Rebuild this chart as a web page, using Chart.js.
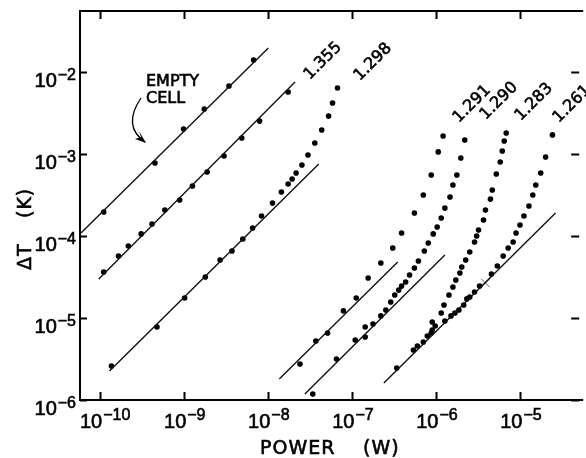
<!DOCTYPE html>
<html>
<head>
<meta charset="utf-8">
<script src="https://cdn.jsdelivr.net/npm/chart.js@4.4.1/dist/chart.umd.min.js"></script>
<style>
  html, body { margin: 0; padding: 0; background: #fff; overflow: hidden; }
  canvas { display: block; }
</style>
</head>
<body>
<canvas id="chart" width="586" height="458"></canvas>
<script>
// Tick decades
const xTickExponents = [-10, -9, -8, -7, -6, -5];
const yTickExponents = [-6, -5, -4, -3, -2];

// Empty cell
const emptyCellPower = [1.10e-10, 4.48e-10, 9.8e-10, 1.73e-9, 3.40e-9, 6.68e-9];
const emptyCellDeltaT = [1.96e-4, 7.76e-4, 2.02e-3, 3.54e-3, 6.75e-3, 1.40e-2];
const emptyFitPower = [5.9e-11, 1.0e-8];
const emptyFitDeltaT = [1.09e-4, 1.96e-2];

// 1.355
const run1355Power = [1.10e-10, 1.65e-10, 2.16e-10, 3.07e-10, 4.13e-10, 5.87e-10, 8.81e-10, 1.25e-9, 1.87e-9, 2.97e-9, 4.83e-9, 7.87e-9, 1.72e-8];
const run1355DeltaT = [3.64e-5, 5.70e-5, 7.55e-5, 1.06e-4, 1.40e-4, 2.07e-4, 2.75e-4, 4.07e-4, 6.03e-4, 9.46e-4, 1.57e-3, 2.52e-3, 5.70e-3];
const fit1355Power = [9.6e-11, 2.08e-8];
const fit1355DeltaT = [2.99e-5, 7.55e-3];

// 1.298
const run1298Power = [1.36e-10, 4.73e-10, 1.01e-9, 1.78e-9, 2.67e-9, 3.69e-9, 4.97e-9, 6.50e-9, 8.30e-9, 1.12e-8, 1.43e-8, 1.72e-8, 1.92e-8, 2.14e-8, 2.51e-8, 2.96e-8, 3.57e-8, 4.32e-8, 5.21e-8, 5.81e-8, 6.65e-8];
const run1298DeltaT = [2.60e-6, 7.76e-6, 1.75e-5, 3.16e-5, 5.09e-5, 6.56e-5, 9.18e-5, 1.25e-4, 1.75e-4, 2.52e-4, 3.44e-4, 4.31e-4, 4.95e-4, 5.86e-4, 7.35e-4, 9.73e-4, 1.36e-3, 1.96e-3, 2.90e-3, 4.19e-3, 6.38e-3];
const fit1298Power = [1.29e-10, 3.98e-8];
const fit1298DeltaT = [2.26e-6, 7.55e-4];

// 1.291
const run1291Power = [2.38e-8, 3.67e-8, 5.07e-8, 7.82e-8, 1.11e-7, 1.54e-7, 2.18e-7, 3.02e-7, 3.85e-7, 5.47e-7, 6.98e-7, 8.67e-7, 1.05e-6, 1.20e-6];
const run1291DeltaT = [2.75e-6, 5.25e-6, 6.56e-6, 1.22e-5, 1.75e-5, 3.08e-5, 4.69e-5, 7.15e-5, 1.09e-4, 1.91e-4, 3.16e-4, 5.55e-4, 1.06e-3, 1.66e-3];
const fit1291Power = [1.35e-8, 3.46e-7];
const fit1291DeltaT = [1.80e-6, 4.82e-5];

// 1.290
const run1290Power = [3.38e-8, 6.47e-8, 1.08e-7, 1.42e-7, 1.42e-7, 1.76e-7, 2.18e-7, 2.50e-7, 2.86e-7, 3.19e-7, 3.56e-7, 3.85e-7, 4.30e-7, 4.79e-7, 5.47e-7, 6.10e-7, 7.18e-7, 8.00e-7, 9.16e-7, 1.02e-6, 1.14e-6, 1.26e-6, 1.45e-6, 1.57e-6, 1.75e-6, 1.95e-6, 2.17e-6];
const run1290DeltaT = [1.18e-6, 3.16e-6, 5.40e-6, 5.86e-6, 7.76e-6, 8.45e-6, 1.06e-5, 1.25e-5, 1.57e-5, 1.91e-5, 2.19e-5, 2.45e-5, 2.75e-5, 3.34e-5, 4.07e-5, 4.95e-5, 6.56e-5, 8.22e-5, 1.06e-4, 1.29e-4, 1.66e-4, 2.19e-4, 2.99e-4, 4.19e-4, 5.55e-4, 8.93e-4, 1.48e-3];
const fit1290Power = [2.72e-8, 1.26e-6];
const fit1290DeltaT = [1.18e-6, 5.86e-5];

// 1.283
const run1283Power = [5.93e-7, 7.78e-7, 8.91e-7, 8.91e-7, 1.14e-6, 1.23e-6, 1.41e-6, 1.57e-6, 1.70e-6, 1.90e-6, 2.00e-6, 2.23e-6, 2.49e-6, 2.84e-6, 3.01e-6, 3.17e-6, 3.63e-6, 3.83e-6, 4.39e-6, 4.62e-6, 5.15e-6, 5.74e-6, 6.07e-6, 6.40e-6, 6.76e-6];
const run1283DeltaT = [4.56e-6, 6.03e-6, 7.15e-6, 8.93e-6, 1.15e-5, 1.44e-5, 1.91e-5, 2.39e-5, 2.90e-5, 3.54e-5, 4.19e-5, 5.09e-5, 6.38e-5, 8.45e-5, 1.00e-4, 1.18e-4, 1.57e-4, 2.07e-4, 2.82e-4, 3.64e-4, 5.70e-4, 7.98e-4, 1.09e-3, 1.44e-3, 1.80e-3];

// 1.261 (shares the fit line with 1.283)
const run1261Power = [3.37e-7, 5.33e-7, 6.98e-7, 8.67e-7, 9.66e-7, 1.26e-6, 1.49e-6, 1.66e-6, 1.85e-6, 2.11e-6, 2.30e-6, 2.49e-6, 2.84e-6, 3.26e-6, 4.51e-6, 5.30e-6, 6.22e-6, 7.13e-6, 8.17e-6, 8.85e-6, 9.86e-6, 1.10e-5, 1.26e-5, 1.40e-5, 1.52e-5, 1.74e-5, 1.99e-5, 2.40e-5];
const run1261DeltaT = [2.45e-6, 4.07e-6, 5.09e-6, 6.56e-6, 7.98e-6, 9.18e-6, 1.06e-5, 1.15e-5, 1.25e-5, 1.44e-5, 1.71e-5, 1.80e-5, 2.07e-5, 2.45e-5, 3.44e-5, 4.31e-5, 5.70e-5, 7.15e-5, 8.45e-5, 1.09e-4, 1.36e-4, 1.75e-4, 2.32e-4, 3.16e-4, 4.19e-4, 5.86e-4, 9.18e-4, 1.71e-3];
const fit1283Power = [2.37e-7, 2.61e-5];
const fit1283DeltaT = [1.61e-6, 1.91e-4];

// hand-drawn tick mark on the lower line
const crossPower = [3.83e-6];
const crossDeltaT = [2.67e-5];

const runLabels = ['1.355', '1.298', '1.291', '1.290', '1.283', '1.261'];

const pairs = (xs, ys) => xs.map((v, i) => ({ x: v, y: ys[i] }));

function dots(xs, ys) {
    return {
        data: pairs(xs, ys),
        showLine: false,
        pointRadius: 2.8,
        pointBorderWidth: 0,
        pointBackgroundColor: '#000'
    };
}

function fitLine(xs, ys) {
    return {
        data: pairs(xs, ys),
        showLine: true,
        borderColor: '#111',
        borderWidth: 1.4,
        pointRadius: 0
    };
}

const datasets = [
    fitLine(emptyFitPower, emptyFitDeltaT),
    fitLine(fit1355Power, fit1355DeltaT),
    fitLine(fit1298Power, fit1298DeltaT),
    fitLine(fit1291Power, fit1291DeltaT),
    fitLine(fit1290Power, fit1290DeltaT),
    fitLine(fit1283Power, fit1283DeltaT),
    dots(emptyCellPower, emptyCellDeltaT),
    dots(run1355Power, run1355DeltaT),
    dots(run1298Power, run1298DeltaT),
    dots(run1291Power, run1291DeltaT),
    dots(run1290Power, run1290DeltaT),
    dots(run1283Power, run1283DeltaT),
    dots(run1261Power, run1261DeltaT),
    {
        data: pairs(crossPower, crossDeltaT),
        showLine: false,
        pointStyle: 'crossRot',
        pointRadius: 6,
        pointBorderWidth: 0.8,
        pointBorderColor: '#333'
    }
];

// text with a thin outline so it reads as heavy as the lettering
function ink(ctx, text, x, y) {
    ctx.fillText(text, x, y);
    ctx.strokeText(text, x, y);
}

// Frame, inward ticks, 10^n labels and annotations
const framePlugin = {
    id: 'frame',
    afterDraw(chart) {
        const { ctx, chartArea, scales } = chart;
        const { left, top, right, bottom } = chartArea;
        ctx.save();
        ctx.strokeStyle = '#000';
        ctx.fillStyle = '#000';
        ctx.lineWidth = 2;

        ctx.beginPath();
        ctx.moveTo(right + 4, top);
        ctx.lineTo(left, top);
        ctx.lineTo(left, bottom);
        ctx.lineTo(right + 4, bottom);
        ctx.stroke();

        // ticks
        ctx.beginPath();
        xTickExponents.forEach(e => {
            const px = Math.round(scales.x.getPixelForValue(Math.pow(10, e))) + 0.5;
            ctx.moveTo(px, bottom); ctx.lineTo(px, bottom - 8);
            ctx.moveTo(px, top); ctx.lineTo(px, top + 8);
        });
        yTickExponents.forEach(e => {
            const py = Math.round(scales.y.getPixelForValue(Math.pow(10, e))) + 0.5;
            ctx.moveTo(left, py); ctx.lineTo(left + 7, py);
            ctx.moveTo(right, py); ctx.lineTo(right - 8, py);
        });
        ctx.stroke();

        ctx.lineWidth = 0.6;
        const baseFont = '20px "Liberation Sans", sans-serif';
        const expFont = '16px "Liberation Sans", sans-serif';
        ctx.textBaseline = 'alphabetic';

        // x labels
        xTickExponents.forEach(e => {
            const px = scales.x.getPixelForValue(Math.pow(10, e));
            ctx.font = baseFont;
            ctx.textAlign = 'right';
            ink(ctx, '10', px + 2, 428);
            ctx.font = expFont;
            ctx.textAlign = 'left';
            ink(ctx, '\u2212' + Math.abs(e), px + 3, 420);
        });

        // y labels
        yTickExponents.forEach(e => {
            const py = scales.y.getPixelForValue(Math.pow(10, e));
            ctx.font = expFont;
            ctx.textAlign = 'right';
            const expText = '\u2212' + Math.abs(e);
            ink(ctx, expText, 76, py + 8);
            const w = ctx.measureText(expText).width;
            ctx.font = baseFont;
            ink(ctx, '10', 76 - w - 1, py + 15);
        });

        // axis titles
        ctx.font = '19px "DejaVu Sans", sans-serif';
        ctx.textAlign = 'left';
        ctx.letterSpacing = '1px';
        ink(ctx, 'POWER', 260, 454);
        ink(ctx, '(W)', 363, 454);

        ctx.save();
        ctx.translate(31, 270);
        ctx.rotate(-Math.PI / 2);
        ink(ctx, '\u0394T', 0, 0);
        ink(ctx, '(K)', 52, 0);
        ctx.restore();

        // run labels, rotated
        ctx.letterSpacing = '0px';
        ctx.font = '16px "DejaVu Sans", sans-serif';
        ctx.textAlign = 'center';
        ctx.textBaseline = 'middle';
        const spots = [[323, 61], [373, 62], [472, 104], [499, 101], [534, 102], [572, 104]];
        runLabels.forEach((t, i) => {
            ctx.save();
            ctx.translate(spots[i][0], spots[i][1]);
            ctx.rotate(-Math.PI / 4);
            ink(ctx, t, 0, 0);
            ctx.restore();
        });

        // EMPTY CELL note with curved arrow
        ctx.textAlign = 'left';
        ctx.textBaseline = 'alphabetic';
        ink(ctx, 'EMPTY', 146, 86);
        ink(ctx, 'CELL', 146, 103);

        ctx.lineWidth = 1.3;
        ctx.beginPath();
        ctx.moveTo(141, 98);
        ctx.quadraticCurveTo(122, 126, 145, 142);
        ctx.stroke();
        ctx.beginPath();
        ctx.moveTo(146, 143);
        ctx.lineTo(139, 131);
        ctx.lineTo(141, 137);
        ctx.lineTo(135, 139);
        ctx.closePath();
        ctx.fill();

        ctx.restore();
    }
};

new Chart(document.getElementById('chart'), {
    type: 'scatter',
    data: { datasets },
    options: {
        responsive: false,
        animation: false,
        devicePixelRatio: 1,
        layout: { padding: { left: 80, top: 11, right: 0, bottom: 58 } },
        plugins: {
            legend: { display: false },
            tooltip: { enabled: false }
        },
        scales: {
            x: {
                type: 'logarithmic',
                display: false,
                min: Math.pow(10, -10.2406),
                max: Math.pow(10, -4.3016)
            },
            y: {
                type: 'logarithmic',
                display: false,
                min: 1e-6,
                max: Math.pow(10, -1.2561)
            }
        }
    },
    plugins: [framePlugin]
});
</script>
</body>
</html>
